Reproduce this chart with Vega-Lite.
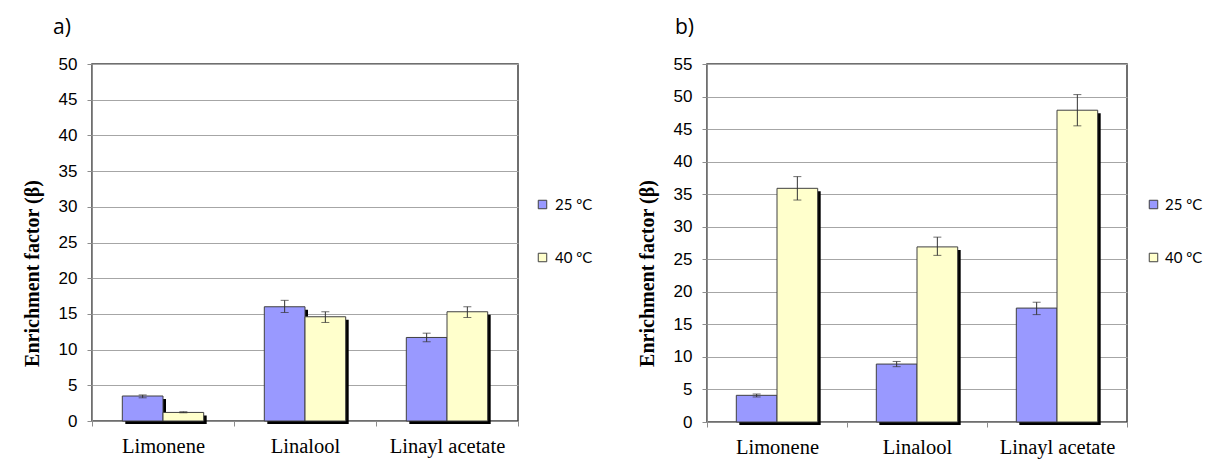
{
  "$schema": "https://vega.github.io/schema/vega-lite/v6.json",
  "padding": {"left": 21, "top": 16, "right": 0, "bottom": 0},
  "background": "white",
  "datasets": {
    "a": [
      {"compound": "Limonene", "temp": "25 ºC", "value": 3.5, "lo": 3.25, "hi": 3.65},
      {"compound": "Limonene", "temp": "40 ºC", "value": 1.2, "lo": 1.15, "hi": 1.3},
      {"compound": "Linalool", "temp": "25 ºC", "value": 16.0, "lo": 15.2, "hi": 16.9},
      {"compound": "Linalool", "temp": "40 ºC", "value": 14.6, "lo": 13.8, "hi": 15.3},
      {"compound": "Linayl acetate", "temp": "25 ºC", "value": 11.7, "lo": 11.1, "hi": 12.3},
      {"compound": "Linayl acetate", "temp": "40 ºC", "value": 15.3, "lo": 14.5, "hi": 16.0}
    ],
    "b": [
      {"compound": "Limonene", "temp": "25 ºC", "value": 4.1, "lo": 3.85, "hi": 4.3},
      {"compound": "Limonene", "temp": "40 ºC", "value": 35.9, "lo": 34.1, "hi": 37.7},
      {"compound": "Linalool", "temp": "25 ºC", "value": 8.9, "lo": 8.5, "hi": 9.3},
      {"compound": "Linalool", "temp": "40 ºC", "value": 26.9, "lo": 25.6, "hi": 28.4},
      {"compound": "Linayl acetate", "temp": "25 ºC", "value": 17.5, "lo": 16.5, "hi": 18.4},
      {"compound": "Linayl acetate", "temp": "40 ºC", "value": 47.9, "lo": 45.5, "hi": 50.3}
    ]
  },
  "bounds": "flush",
  "spacing": 189,
  "resolve": {"scale": {"color": "independent", "y": "independent"}, "legend": {"color": "independent"}},
  "hconcat": [
    {
      "width": 426,
      "height": 357,
      "title": {"text": "a)", "anchor": "start", "frame": "group", "dx": -39, "offset": 0, "baseline": "alphabetic", "font": "Open Sans", "fontSize": 21, "fontWeight": "normal", "color": "#000000"},
      "data": {"name": "a"},
      "encoding": {
        "x": {"field": "compound", "type": "nominal", "sort": ["Limonene", "Linalool", "Linayl acetate"], "scale": {"paddingInner": 0, "paddingOuter": 0}, "title": null}
      },
      "resolve": {"scale": {"xOffset": "independent"}},
      "layer": [
        {
          "mark": {"type": "bar", "color": "#000000", "yOffset": 3, "y2Offset": -3},
          "encoding": {
            "y": {"field": "value", "type": "quantitative", "scale": {"domain": [0, 50], "nice": false}, "title": "Enrichment factor (β)"},
            "xOffset": {"field": "temp", "type": "nominal", "scale": {"range": [3, 145], "paddingInner": 0, "paddingOuter": 0.745}}
          }
        },
        {
          "mark": {"type": "bar", "stroke": "#404040", "strokeWidth": 1},
          "encoding": {
            "y": {"field": "value", "type": "quantitative", "scale": {"domain": [0, 50], "nice": false}, "title": "Enrichment factor (β)"},
            "xOffset": {"field": "temp", "type": "nominal", "scale": {"paddingInner": 0, "paddingOuter": 0.745}},
            "color": {"field": "temp", "type": "nominal", "scale": {"domain": ["25 ºC", "40 ºC"], "range": ["#9999ff", "#ffffcc"]}, "legend": {"title": null, "orient": "none", "legendX": 443, "legendY": 133}}
          }
        },
        {
          "mark": {"type": "rule", "color": "#333333", "strokeWidth": 1},
          "encoding": {
            "y": {"field": "lo", "type": "quantitative", "scale": {"domain": [0, 50], "nice": false}, "title": "Enrichment factor (β)"},
            "y2": {"field": "hi"},
            "xOffset": {"field": "temp", "type": "nominal", "scale": {"paddingInner": 0, "paddingOuter": 0.745}}
          }
        },
        {
          "mark": {"type": "tick", "color": "#333333", "thickness": 1, "size": 8, "orient": "horizontal"},
          "encoding": {
            "y": {"field": "lo", "type": "quantitative", "scale": {"domain": [0, 50], "nice": false}, "title": "Enrichment factor (β)"},
            "xOffset": {"field": "temp", "type": "nominal", "scale": {"paddingInner": 0, "paddingOuter": 0.745}}
          }
        },
        {
          "mark": {"type": "tick", "color": "#333333", "thickness": 1, "size": 8, "orient": "horizontal"},
          "encoding": {
            "y": {"field": "hi", "type": "quantitative", "scale": {"domain": [0, 50], "nice": false}, "title": "Enrichment factor (β)"},
            "xOffset": {"field": "temp", "type": "nominal", "scale": {"paddingInner": 0, "paddingOuter": 0.745}}
          }
        }
      ]
    },
    {
      "width": 420,
      "height": 358,
      "title": {"text": "b)", "anchor": "start", "frame": "group", "dx": -32, "offset": 0, "baseline": "alphabetic", "font": "Open Sans", "fontSize": 21, "fontWeight": "normal", "color": "#000000"},
      "data": {"name": "b"},
      "encoding": {
        "x": {"field": "compound", "type": "nominal", "sort": ["Limonene", "Linalool", "Linayl acetate"], "scale": {"paddingInner": 0, "paddingOuter": 0}, "title": null}
      },
      "resolve": {"scale": {"xOffset": "independent"}},
      "layer": [
        {
          "mark": {"type": "bar", "color": "#000000", "yOffset": 3, "y2Offset": -3},
          "encoding": {
            "y": {"field": "value", "type": "quantitative", "scale": {"domain": [0, 55], "nice": false}, "title": "Enrichment factor (β)"},
            "xOffset": {"field": "temp", "type": "nominal", "scale": {"range": [3, 143], "paddingInner": 0, "paddingOuter": 0.72}}
          }
        },
        {
          "mark": {"type": "bar", "stroke": "#404040", "strokeWidth": 1},
          "encoding": {
            "y": {"field": "value", "type": "quantitative", "scale": {"domain": [0, 55], "nice": false}, "title": "Enrichment factor (β)"},
            "xOffset": {"field": "temp", "type": "nominal", "scale": {"paddingInner": 0, "paddingOuter": 0.72}},
            "color": {"field": "temp", "type": "nominal", "scale": {"domain": ["25 ºC", "40 ºC"], "range": ["#9999ff", "#ffffcc"]}, "legend": {"title": null, "orient": "none", "legendX": 439, "legendY": 133, "labelOffset": 4}}
          }
        },
        {
          "mark": {"type": "rule", "color": "#333333", "strokeWidth": 1},
          "encoding": {
            "y": {"field": "lo", "type": "quantitative", "scale": {"domain": [0, 55], "nice": false}, "title": "Enrichment factor (β)"},
            "y2": {"field": "hi"},
            "xOffset": {"field": "temp", "type": "nominal", "scale": {"paddingInner": 0, "paddingOuter": 0.72}}
          }
        },
        {
          "mark": {"type": "tick", "color": "#333333", "thickness": 1, "size": 8, "orient": "horizontal"},
          "encoding": {
            "y": {"field": "lo", "type": "quantitative", "scale": {"domain": [0, 55], "nice": false}, "title": "Enrichment factor (β)"},
            "xOffset": {"field": "temp", "type": "nominal", "scale": {"paddingInner": 0, "paddingOuter": 0.72}}
          }
        },
        {
          "mark": {"type": "tick", "color": "#333333", "thickness": 1, "size": 8, "orient": "horizontal"},
          "encoding": {
            "y": {"field": "hi", "type": "quantitative", "scale": {"domain": [0, 55], "nice": false}, "title": "Enrichment factor (β)"},
            "xOffset": {"field": "temp", "type": "nominal", "scale": {"paddingInner": 0, "paddingOuter": 0.72}}
          }
        }
      ]
    }
  ],
  "config": {
    "font": "Liberation Sans",
    "view": {"stroke": "#404040", "strokeWidth": 1.5},
    "axisY": {
      "titleX": -60, "titleY": 209, "titleAngle": -90, "titleAlign": "center", "titleBaseline": "middle",
      "titleFont": "Liberation Serif", "titleFontSize": 20, "titleFontWeight": "bold", "titleColor": "#000000",
      "labelFont": "Liberation Sans", "labelFontSize": 17, "labelColor": "#000000", "labelPadding": 10,
      "tickSize": 5, "tickColor": "#8c8c8c", "gridColor": "#a6a6a6", "gridWidth": 1, "domainColor": "#8c8c8c", "grid": true
    },
    "axisX": {
      "tickBand": "extent", "labelFont": "Liberation Serif", "labelFontSize": 20.5, "labelColor": "#000000",
      "labelAngle": 0, "labelBaseline": "alphabetic", "labelPadding": 26, "tickSize": 5, "tickColor": "#8c8c8c",
      "domainColor": "#8c8c8c", "grid": false
    },
    "legend": {
      "symbolType": "square", "symbolSize": 72, "symbolStrokeColor": "#404040", "symbolStrokeWidth": 1,
      "labelFont": "Lato", "labelFontSize": 15, "labelColor": "#000000", "labelOffset": 5, "rowPadding": 37, "padding": 0
    }
  }
}
